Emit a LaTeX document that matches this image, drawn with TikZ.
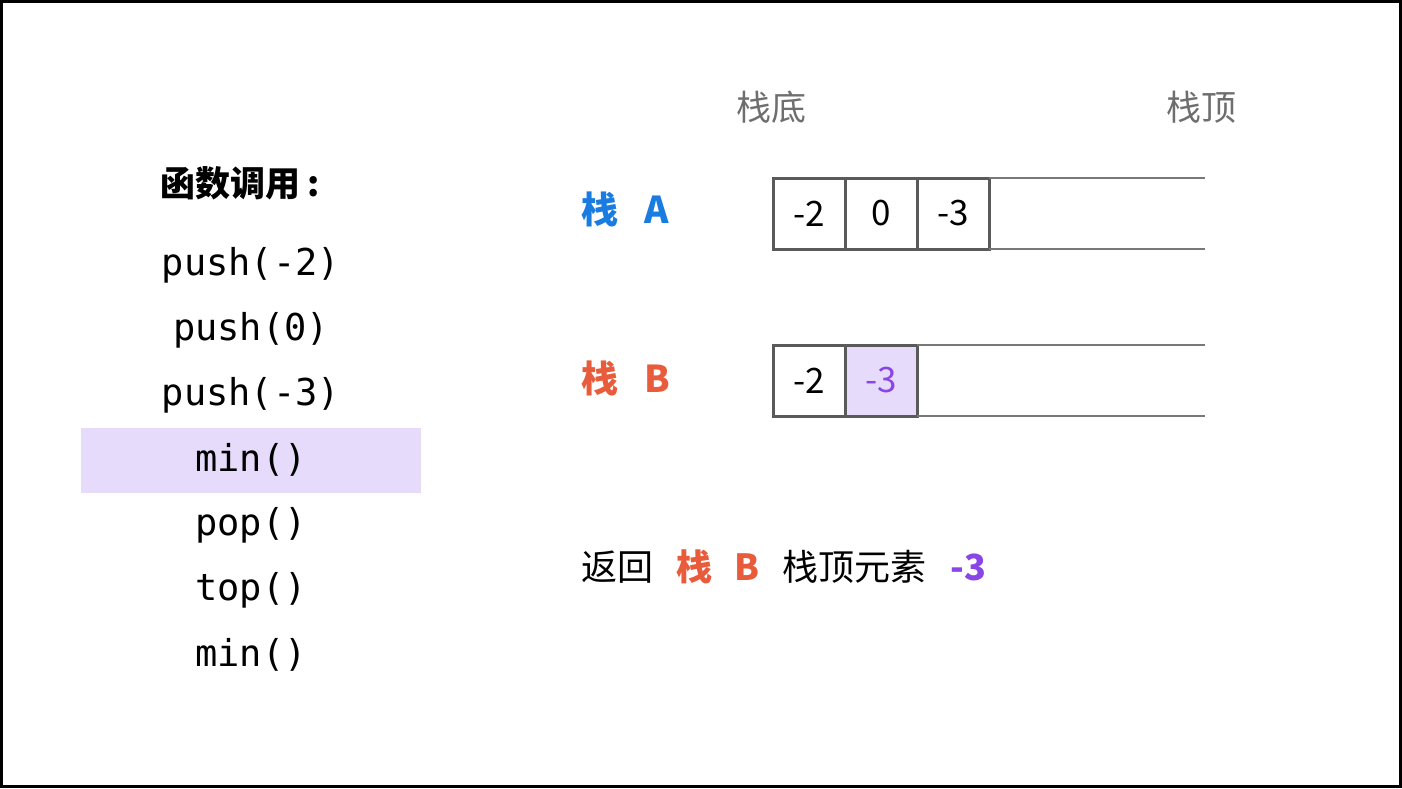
\documentclass[tikz,border=0pt]{standalone}
\usepackage{fontspec}
\setmainfont{Noto Sans CJK SC}
\setmonofont{DejaVu Sans Mono}
\usetikzlibrary{positioning}

\definecolor{stackA}{HTML}{1A7BE0}
\definecolor{stackB}{HTML}{E85C3C}
\definecolor{minval}{HTML}{8A45E6}
\definecolor{hilite}{HTML}{E7DBFB}
\definecolor{cellgray}{HTML}{5A5A5A}
\definecolor{railgray}{HTML}{787878}
\definecolor{endgray}{HTML}{6E6E6E}

\begin{document}
\begin{tikzpicture}[x=1pt,y=-1pt,
 cell/.style={draw=cellgray,line width=3pt,outer sep=0pt,inner sep=0pt,
   minimum width=72pt,minimum height=71pt,font=\fontsize{35}{35}\selectfont},
 rail/.style={draw=railgray,line width=2pt},
 call/.style={font=\fontsize{37}{37}\selectfont\ttfamily},
 stackname/.style={font=\fontsize{37}{37}\selectfont\bfseries,anchor=west},
 endname/.style={text=endgray,font=\fontsize{35}{35}\selectfont}]

  \useasboundingbox (0,0) rectangle (1402,788);
  \draw[line width=3pt] (1.5,1.5) rectangle (1400.5,786.5);

  % left column: the calls
  \node[font=\fontsize{35}{35}\selectfont\bfseries,anchor=west] (title) at (157,183) {函数调用\hspace{0.2em}:};
  \node[fill=hilite,minimum width=340pt,minimum height=65pt] (hl) at (251,460.5) {};
  \foreach \t [count=\i] in {push(-2),push(0),push(-3),min(),pop(),top(),min()}
    \node[call] (c\i) at (251,265+65*\i-65) {\t};

  % stack A
  \node[stackname,text=stackA] (nameA) at (578,209) {栈\hspace{0.7em}A};
  \node[cell] (a1) at (809,213.5) {-2};
  \node[cell,right=0pt of a1] (a2) {0};
  \node[cell,right=0pt of a2] (a3) {-3};
  \coordinate (endA) at (1205,0);
  \draw[rail] (a3.north east) -- (a3.north east -| endA);
  \draw[rail] (a3.south east) -- (a3.south east -| endA);

  % stack B
  \node[stackname,text=stackB] (nameB) at (578,378) {栈\hspace{0.7em}B};
  \node[cell] (b1) at (809,380.5) {-2};
  \node[cell,right=0pt of b1,fill=hilite,text=minval] (b2) {-3};
  \draw[rail] (b2.north east) -- (b2.north east -| endA);
  \draw[rail] (b2.south east) -- (b2.south east -| endA);

  % ends
  \node[endname] (bottom) at (771,107) {栈底};
  \node[endname] (top) at (1201,107) {栈顶};

  % result
  \node[anchor=west,font=\fontsize{36}{36}\selectfont] (result) at (578,567)
    {返回\hspace{0.65em}{\color{stackB}\bfseries 栈\hspace{0.6em}B}\hspace{0.65em}栈顶元素\hspace{0.65em}{\color{minval}\bfseries -3}};
\end{tikzpicture}
\end{document}
